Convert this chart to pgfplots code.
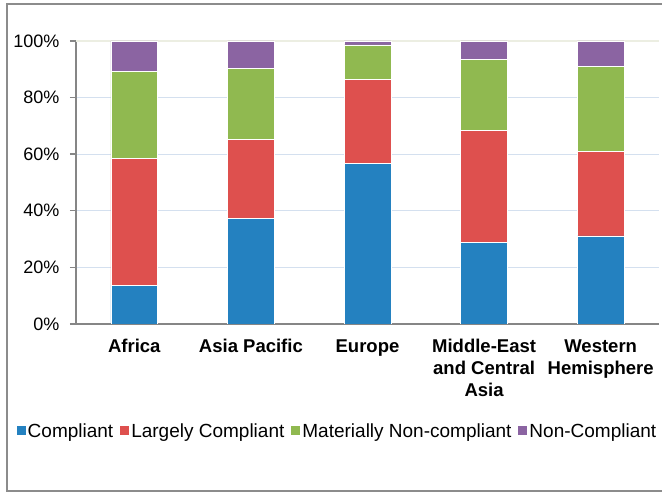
\documentclass[border=0pt]{standalone}
\usepackage{fontspec}
\setmainfont{Liberation Sans}
\usepackage{pgfplots}
\pgfplotsset{compat=1.18}

\definecolor{cblue}{RGB}{36,129,192}
\definecolor{cred}{RGB}{222,80,78}
\definecolor{cgreen}{RGB}{144,185,80}
\definecolor{cpurple}{RGB}{139,100,162}
\definecolor{axisgray}{RGB}{134,134,134}
\definecolor{framegray}{RGB}{140,140,140}
\definecolor{gridblue}{RGB}{212,224,239}
\definecolor{toppale}{RGB}{236,238,226}

\begin{document}
\begin{tikzpicture}
\useasboundingbox (0pt,0pt) rectangle (662pt,493pt);
% outer frame
\draw[framegray, line width=1.5pt] (662pt,489pt) -- (7pt,489pt) -- (7pt,2pt) -- (662pt,2pt);
\begin{axis}[
  at={(76pt,169pt)}, anchor=south west,
  width=583pt, height=283pt, scale only axis,
  ybar stacked, bar width=0.4,
  xmin=-0.5, xmax=4.5, ymin=0, ymax=100,
  xtick={0,1,2,3,4},
  xticklabels={Africa, Asia Pacific, Europe, {Middle-East\\and Central\\Asia}, {Western\\Hemisphere}},
  minor xtick={-0.5,0.5,1.5,2.5,3.5,4.5},
  ytick={0,20,40,60,80},
  extra y ticks={100},
  extra y tick style={grid style={toppale, line width=1.2pt}},
  yticklabel={\pgfmathprintnumber{\tick}\%},
  ymajorgrids,
  grid style={gridblue, line width=1.2pt},
  axis x line*=bottom, axis y line*=left,
  axis line style={axisgray, line width=1.6pt, -},
  tick align=outside,
  xtick style={draw=none},
  ytick style={axisgray, line width=1.4pt},
  minor tick style={axisgray, line width=1.4pt},
  major tick length=6pt, minor tick length=6pt,
  /pgf/number format/assume math mode=true,
  yticklabel style={font=\fontsize{18}{21}\selectfont, xshift=-7pt},
  xticklabel style={font=\bfseries\fontsize{18.5}{22}\selectfont, align=center, yshift=-6pt},
  legend style={at={(0.4485,-0.378)}, anchor=center, draw=none,
    font=\fontsize{19}{22}\selectfont,
    /tikz/every even column/.append style={column sep=5pt},
    nodes={inner xsep=2pt}},
  legend columns=-1,
  legend image code/.code={\fill[#1,draw=none] (0pt,-4.5pt) rectangle (9pt,4.5pt);},
  every axis plot/.append style={draw=white, line width=0.6pt},
]
\addplot[fill=cblue] coordinates {(0,13.7) (1,37.3) (2,56.8) (3,28.7) (4,31.1)};
\addplot[fill=cred] coordinates {(0,44.7) (1,28.0) (2,29.7) (3,39.7) (4,29.9)};
\addplot[fill=cgreen] coordinates {(0,30.9) (1,24.9) (2,12.1) (3,25.1) (4,30.0)};
\addplot[fill=cpurple] coordinates {(0,10.7) (1,9.8) (2,1.4) (3,6.5) (4,9.0)};
\legend{Compliant, Largely Compliant, Materially Non-compliant, Non-Compliant}
\end{axis}
\end{tikzpicture}
\end{document}
